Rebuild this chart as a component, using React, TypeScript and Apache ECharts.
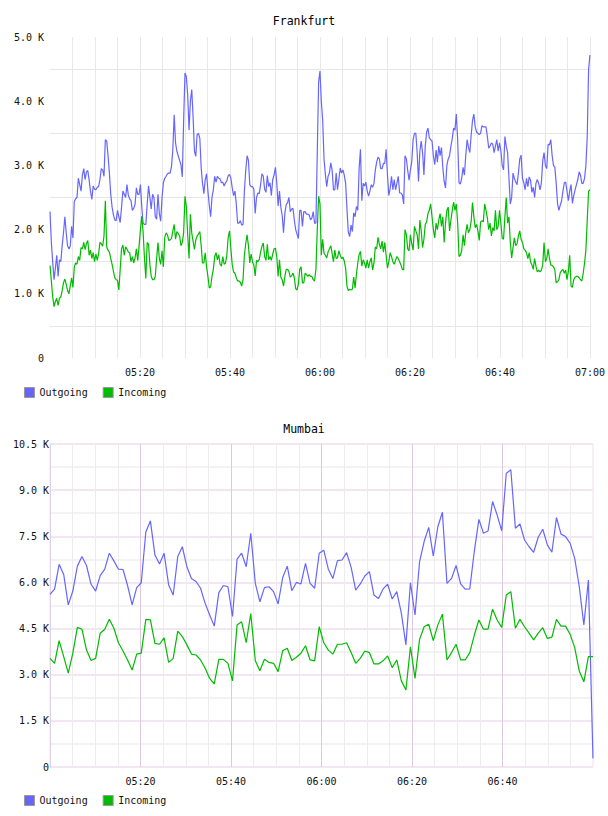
import React, { useEffect, useRef } from "react";
import * as echarts from "echarts";

// Traffic in K per sample; Frankfurt sampled every 18 s from 05:00, Mumbai every 60.5 s.
const FRANKFURT_STEP_SEC = 18;
const MUMBAI_STEP_SEC = 60.5;

const FRANKFURT_OUTGOING = [
  2.28, 1.8, 1.5, 1.22, 1.4, 1.6, 1.27, 1.53, 1.5, 1.75,
  1.95, 2.2, 1.95, 1.75, 1.7, 1.74, 2.05, 1.87, 2.44, 2.48,
  2.5, 2.8, 2.7, 2.6, 2.85, 2.95, 2.78, 2.9, 2.92, 2.77,
  2.6, 2.47, 2.68, 2.63, 2.62, 2.66, 2.67, 2.78, 2.95, 2.93,
  2.83, 3.4, 3.38, 3.15, 2.88, 2.55, 2.35, 2.23, 2.15, 2.14,
  2.3, 2.2, 2.11, 2.35, 2.6, 2.55, 2.5, 2.7, 2.54, 2.48,
  2.45, 2.3, 2.33, 2.39, 2.65, 2.55, 2.55, 2.7, 2.35, 2.1,
  2.08, 2.08, 2.4, 2.68, 2.5, 2.32, 2.55, 2.5, 2.2, 2.16,
  2.55, 2.25, 2.13, 2.5, 2.73, 2.8, 2.83, 2.87, 2.88, 2.88,
  2.98, 3.25, 3.79, 3.35, 3.22, 3.15, 3.08, 3.01, 2.82, 3.7,
  4.44, 4.38, 4.1, 3.55, 4.0, 4.18, 3.76, 3.22, 3.14, 3.48,
  3.5, 3.42, 2.96, 2.72, 2.56, 2.78, 2.87, 2.6, 2.38, 2.2,
  2.5, 2.62, 2.83, 2.74, 2.83, 2.8, 2.79, 2.73, 2.74, 2.68,
  2.73, 2.76, 2.84, 2.86, 2.8, 2.65, 2.53, 2.6, 2.4, 2.1,
  2.1, 2.14, 2.07, 2.08, 2.6, 2.92, 3.15, 3.08, 2.7, 2.67,
  2.67, 2.63, 2.25, 2.5, 2.57, 2.56, 2.7, 2.87, 2.83, 2.63,
  2.58, 2.84, 2.67, 2.73, 2.53, 2.78, 2.85, 2.97, 2.72, 2.37,
  2.6, 2.35, 2.22, 1.95, 2.26, 2.39, 2.42, 2.5, 2.28, 2.32,
  2.33, 2.15, 2.0, 1.93, 1.86, 2.3, 2.3, 2.05, 2.28, 2.28,
  2.24, 2.24, 2.23, 2.15, 2.18, 2.28, 2.1, 2.1, 3.2, 4.3,
  4.47, 4.0, 3.7, 3.1, 2.86, 2.67, 2.83, 2.88, 3.04, 2.93,
  2.62, 2.62, 2.88, 2.62, 2.78, 2.96, 2.88, 2.93, 2.85, 2.72,
  2.32, 1.96, 1.89, 2.07, 1.97, 2.26, 2.2, 2.36, 2.3, 2.95,
  3.25, 2.45, 2.72, 2.68, 2.74, 2.6, 2.52, 2.6, 2.7, 2.66,
  2.72, 2.93, 3.05, 3.13, 3.1, 2.95, 2.95, 3.03, 3.03, 3.25,
  2.85, 2.53, 2.64, 2.83, 2.62, 2.78, 2.62, 2.72, 2.83, 2.57,
  2.57, 2.54, 2.4, 3.15, 3.1, 2.92, 2.77, 2.93, 3.06, 3.4,
  3.5, 3.5, 3.2, 2.75, 3.22, 3.38, 3.2, 2.85, 3.3, 3.52,
  3.58, 3.43, 3.4, 3.38, 3.15, 3.01, 3.24, 3.05, 3.3, 3.15,
  3.28, 2.97, 2.75, 2.65, 3.0, 3.1, 3.15, 3.3, 3.42, 3.58,
  3.55, 3.8, 3.4, 2.73, 2.71, 2.8, 2.97, 2.85, 3.15, 3.4,
  3.28, 3.2, 3.47, 3.7, 3.8, 3.6, 3.52, 3.5, 3.48, 3.5,
  3.62, 3.6, 3.6, 3.6, 3.45, 3.27, 3.3, 3.35, 3.33, 3.2,
  3.3, 3.4, 3.22, 3.35, 3.23, 3.0, 2.93, 3.45, 3.3, 3.2,
  2.8, 2.4, 2.5, 2.88, 2.8, 2.74, 2.7, 2.88, 3.1, 3.16,
  2.8, 2.73, 2.62, 2.8, 2.67, 2.82, 2.77, 2.58, 2.66, 2.5,
  2.72, 2.78, 2.72, 2.62, 2.72, 3.07, 3.2, 3.0, 2.95, 3.33,
  3.32, 3.4, 3.15, 3.0, 2.97, 2.72, 2.4, 2.3, 2.38, 2.45,
  2.6, 2.73, 2.74, 2.6, 2.45, 2.6, 2.7, 2.41, 2.53, 2.62,
  2.7, 2.78, 2.9, 2.85, 2.72, 2.72, 2.8, 3.0, 3.45, 4.5,
  4.72,
];

const FRANKFURT_INCOMING = [
  1.44, 1.2, 0.95, 0.8, 0.88, 0.93, 0.82, 0.93, 0.95, 1.05,
  1.17, 1.23, 1.15, 1.05, 1.0, 1.12, 1.25, 1.1, 1.42, 1.48,
  1.46, 1.58, 1.52, 1.72, 1.7, 1.8, 1.69, 1.78, 1.83, 1.6,
  1.68, 1.55, 1.64, 1.5, 1.62, 1.52, 1.62, 1.8, 1.78, 1.74,
  1.9, 2.45, 1.73, 1.68, 1.65, 1.55, 1.46, 1.35, 1.25, 1.22,
  1.21, 1.06, 1.38, 1.7, 1.76, 1.6, 1.73, 1.7, 1.65, 1.64,
  1.5, 1.58, 1.48, 1.56, 1.7, 1.52, 1.75, 2.0, 2.21, 1.95,
  1.55, 1.24, 1.8, 1.77, 1.45, 1.27, 1.22, 1.22, 1.27, 1.55,
  1.8, 1.55, 1.46, 1.67, 1.42, 1.88, 1.95, 1.92, 1.83, 1.84,
  1.86, 1.98, 2.08, 1.85, 1.97, 1.94, 1.9, 1.75, 1.8, 1.95,
  2.52, 2.36, 1.92, 1.55, 2.24, 1.95, 1.82, 1.69, 1.84, 1.9,
  1.93, 1.97, 1.75, 1.48, 1.48, 1.64, 1.42, 1.27, 1.09, 1.11,
  1.27, 1.38, 1.58, 1.64, 1.53, 1.61, 1.46, 1.43, 1.58, 1.46,
  1.48, 1.6, 1.88, 1.98, 1.7, 1.45, 1.34, 1.32, 1.25, 1.2,
  1.2, 1.18, 1.12, 1.22, 1.6, 1.78, 1.92, 1.75, 1.48, 1.62,
  1.5, 1.45, 1.28, 1.52, 1.5, 1.53, 1.65, 1.74, 1.79, 1.58,
  1.52, 1.77, 1.53, 1.58, 1.52, 1.62, 1.7, 1.71, 1.58, 1.27,
  1.53, 1.26, 1.22, 1.12, 1.27, 1.38, 1.38, 1.35, 1.26, 1.28,
  1.32, 1.25, 1.08, 1.06, 1.15, 1.38, 1.42, 1.17, 1.17, 1.32,
  1.3, 1.27, 1.3, 1.27, 1.27, 1.22, 1.2, 1.38, 2.0, 2.52,
  2.4, 1.6, 1.85, 1.63, 1.6, 1.56, 1.65, 1.7, 1.75, 1.63,
  1.5, 1.68, 1.55, 1.56, 1.67, 1.6, 1.55, 1.57, 1.51, 1.4,
  1.12, 1.05, 1.07, 1.06, 1.07, 1.26, 1.09, 1.3, 1.48, 1.61,
  1.66, 1.43, 1.53, 1.48, 1.4, 1.53, 1.4, 1.5, 1.56, 1.37,
  1.48, 1.73, 1.7, 1.88, 1.77, 1.7, 1.82, 1.65, 1.8, 1.6,
  1.4, 1.5, 1.64, 1.58, 1.5, 1.46, 1.52, 1.58, 1.55, 1.5,
  1.45, 1.38, 1.37, 2.0, 1.92, 1.7, 1.67, 1.92, 1.78, 1.68,
  2.05, 1.98, 1.92, 1.7, 2.15, 1.98, 1.72, 1.85, 2.08, 2.12,
  2.25, 2.3, 2.4, 2.2, 2.0, 1.87, 2.1, 2.0, 2.15, 2.25,
  2.05, 2.2, 1.8, 2.1, 2.3, 2.35, 1.98, 2.15, 2.3, 2.43,
  2.3, 2.4, 2.1, 1.58, 1.6, 1.67, 1.92, 1.75, 1.95, 2.08,
  1.95, 2.0, 2.13, 2.42, 2.2, 2.03, 2.08, 1.98, 1.83, 2.12,
  2.14, 2.12, 2.4, 2.3, 2.18, 2.0, 2.1, 1.9, 2.03, 1.98,
  2.3, 2.0, 2.05, 2.3, 2.1, 1.87, 1.85, 2.2, 2.5, 2.1,
  2.2, 1.8, 1.56, 1.72, 1.87, 1.75, 1.78, 1.9, 1.98, 1.85,
  1.8, 1.7, 1.68, 1.64, 1.55, 1.64, 1.5, 1.45, 1.38, 1.55,
  1.43, 1.34, 1.37, 1.34, 1.37, 1.45, 1.8, 1.5, 1.55, 1.7,
  1.55, 1.45, 1.44, 1.42, 1.37, 1.17, 1.19, 1.22, 1.33, 1.36,
  1.38, 1.32, 1.37, 1.22, 1.35, 1.6, 1.12, 1.1, 1.22, 1.26,
  1.27, 1.27, 1.25, 1.22, 1.2, 1.32, 1.48, 1.68, 2.15, 2.6,
  2.62,
];

const MUMBAI_OUTGOING = [
  5.61, 5.78, 6.59, 6.26, 5.27, 5.72, 6.53, 6.84, 6.55, 5.94,
  5.72, 6.22, 6.43, 6.95, 6.7, 6.43, 6.42, 5.9, 5.27, 5.83,
  5.99, 7.64, 8.0, 6.89, 6.6, 6.95, 5.92, 5.59, 6.84, 7.16,
  6.51, 6.13, 6.03, 5.81, 5.32, 4.94, 4.58, 5.67, 5.9, 5.86,
  4.89, 6.76, 6.95, 6.51, 7.6, 5.97, 5.37, 5.83, 5.86, 5.7,
  5.3, 6.16, 6.53, 5.73, 6.0, 5.95, 6.62, 5.97, 5.81, 6.95,
  7.05, 6.43, 6.13, 6.71, 6.73, 6.97, 6.49, 5.75, 5.95, 6.21,
  6.35, 5.59, 5.48, 5.79, 5.94, 5.46, 5.7, 5.0, 3.97, 5.99,
  4.94, 6.68, 7.33, 7.79, 6.86, 7.81, 8.28, 5.97, 6.13, 6.55,
  5.95, 5.78, 5.79, 7.02, 8.05, 7.6, 7.67, 8.63, 8.19, 7.68,
  9.55, 9.66, 7.76, 7.9, 7.38, 7.16, 6.98, 7.47, 7.73, 7.22,
  6.98, 8.11, 7.57, 7.49, 7.27, 6.78, 5.86, 4.62, 6.08, 0.28,
];

const MUMBAI_INCOMING = [
  3.53, 3.37, 4.11, 3.59, 3.05, 3.7, 4.54, 4.48, 3.8, 3.46,
  3.53, 4.35, 4.48, 4.8, 4.51, 4.04, 3.77, 3.48, 3.15, 3.67,
  3.7, 4.8, 4.78, 4.02, 3.99, 4.2, 3.4, 3.53, 4.42, 4.24,
  3.97, 3.67, 3.64, 3.48, 3.21, 2.88, 2.7, 3.5, 3.5, 3.37,
  2.8, 4.62, 4.72, 4.04, 4.99, 3.45, 3.13, 3.5, 3.4, 3.37,
  3.1, 3.78, 3.86, 3.46, 3.57, 3.7, 3.94, 3.48, 3.45, 4.56,
  4.04, 3.8, 3.67, 3.99, 3.99, 4.04, 3.72, 3.37, 3.53, 3.77,
  3.72, 3.35, 3.35, 3.45, 3.61, 3.23, 3.48, 2.8, 2.5, 3.91,
  2.88, 4.15, 4.56, 4.64, 4.11, 4.62, 4.97, 3.48, 3.72, 3.99,
  3.48, 3.48, 3.72, 4.29, 4.78, 4.48, 4.48, 5.13, 4.78, 4.54,
  5.59, 5.7, 4.51, 4.8, 4.56, 4.35, 4.13, 4.35, 4.53, 4.18,
  4.22, 4.8, 4.58, 4.58, 4.31, 3.88, 3.12, 2.77, 3.59, 3.59,
];

const SERIES_NAMES = ["Outgoing", "Incoming"];
const START_HOUR = 5;

const BLUE = "#6666ff";
const GREEN = "#00bb00";
const MONO = "DejaVu Sans Mono, monospace";

const toPoints = (vals: number[], stepSec: number) =>
  vals.map((v, i) => [(i * stepSec) / 60, v]);

const pad = (n: number) => (n < 10 ? "0" + n : String(n));

const timeLabel = (hideLast: boolean) => (m: number) => {
  if (m === 0 || m % 20 !== 0) return "";
  if (hideLast && m === 120) return "";
  return pad(START_HOUR + Math.floor(m / 60)) + ":" + pad(m % 60);
};

const kLabel = (step: number) => (v: number) => {
  const r = v / step;
  if (Math.abs(r - Math.round(r)) > 1e-6) return "";
  return v === 0 ? "0" : v.toFixed(1) + " K";
};

export default function App() {
  const ref = useRef<HTMLDivElement>(null);

  useEffect(() => {
    if (!ref.current) return;
    const chart = echarts.init(ref.current, undefined, { renderer: "svg" });

    const labelStyle = { fontFamily: MONO, fontSize: 10, color: "#111" };
    const legendBase = {
      data: SERIES_NAMES,
      left: 24,
      padding: 0,
      icon: "rect",
      itemWidth: 10,
      itemHeight: 10,
      itemGap: 15,
      itemStyle: { borderColor: "#999", borderWidth: 1 },
      textStyle: labelStyle,
    };
    const titleStyle = { fontFamily: MONO, fontSize: 11.5, fontWeight: "normal", color: "#000" };

    chart.setOption({
      animation: false,
      backgroundColor: "#fff",
      title: [
        { text: "Frankfurt", left: "center", top: 10, textStyle: titleStyle },
        { text: "Mumbai", left: "center", top: 418, textStyle: titleStyle },
      ],
      legend: [
        { ...legendBase, top: 387 },
        { ...legendBase, top: 795 },
      ],
      grid: [
        { left: 50, top: 37, width: 542, height: 321 },
        {
          left: 50,
          top: 444,
          width: 543,
          height: 323,
          show: true,
          borderColor: "#eee0ee",
          borderWidth: 1,
        },
      ],
      xAxis: [
        {
          type: "value",
          gridIndex: 0,
          min: 0,
          max: 120,
          interval: 5,
          axisLine: { show: false },
          axisTick: { show: false },
          axisLabel: { ...labelStyle, margin: 9, formatter: timeLabel(false) },
          splitLine: {
            show: true,
            showMinLine: false,
            lineStyle: { color: "#e8e8e8", width: 1 },
          },
        },
        {
          type: "value",
          gridIndex: 1,
          min: 0,
          max: 120,
          interval: 5,
          axisLine: { show: false },
          axisTick: { show: false },
          axisLabel: { ...labelStyle, margin: 9, formatter: timeLabel(true) },
          splitLine: {
            show: true,
            showMaxLine: false,
            lineStyle: { color: ["#dfc8df", "#eeeaee", "#eeeaee", "#eeeaee"], width: 1 },
          },
        },
      ],
      yAxis: [
        {
          type: "value",
          gridIndex: 0,
          min: 0,
          max: 5,
          interval: 0.5,
          axisLine: { show: false },
          axisTick: { show: false },
          axisLabel: { ...labelStyle, margin: 6, formatter: kLabel(1) },
          splitLine: {
            show: true,
            lineStyle: { color: ["rgba(0,0,0,0)", "#e6e6e6"], width: 1 },
          },
        },
        {
          type: "value",
          gridIndex: 1,
          min: 0,
          max: 10.5,
          interval: 0.75,
          axisLine: { show: true, lineStyle: { color: "#e4d0e4", width: 1 } },
          axisTick: { show: false },
          axisLabel: { ...labelStyle, margin: 1, formatter: kLabel(1.5) },
          splitLine: {
            show: true,
            lineStyle: { color: ["#f1e6f1", "#f4f2f4"], width: 2 },
          },
        },
      ],
      series: [
        {
          name: "Outgoing",
          type: "line",
          xAxisIndex: 0,
          yAxisIndex: 0,
          data: toPoints(FRANKFURT_OUTGOING, FRANKFURT_STEP_SEC),
          showSymbol: false,
          symbol: "none",
          color: BLUE,
          lineStyle: { color: BLUE, width: 1.2 },
        },
        {
          name: "Incoming",
          type: "line",
          xAxisIndex: 0,
          yAxisIndex: 0,
          data: toPoints(FRANKFURT_INCOMING, FRANKFURT_STEP_SEC),
          showSymbol: false,
          symbol: "none",
          color: GREEN,
          lineStyle: { color: GREEN, width: 1.2 },
        },
        {
          name: "Outgoing",
          type: "line",
          xAxisIndex: 1,
          yAxisIndex: 1,
          data: toPoints(MUMBAI_OUTGOING, MUMBAI_STEP_SEC),
          showSymbol: false,
          symbol: "none",
          color: BLUE,
          lineStyle: { color: BLUE, width: 1.2 },
        },
        {
          name: "Incoming",
          type: "line",
          xAxisIndex: 1,
          yAxisIndex: 1,
          data: toPoints(MUMBAI_INCOMING, MUMBAI_STEP_SEC),
          showSymbol: false,
          symbol: "none",
          color: GREEN,
          lineStyle: { color: GREEN, width: 1.2 },
        },
      ],
    });

    return () => chart.dispose();
  }, []);

  return (
    <div
      ref={ref}
      style={{ position: "absolute", left: 0, top: 0, width: 608, height: 816, background: "#fff" }}
    />
  );
}
